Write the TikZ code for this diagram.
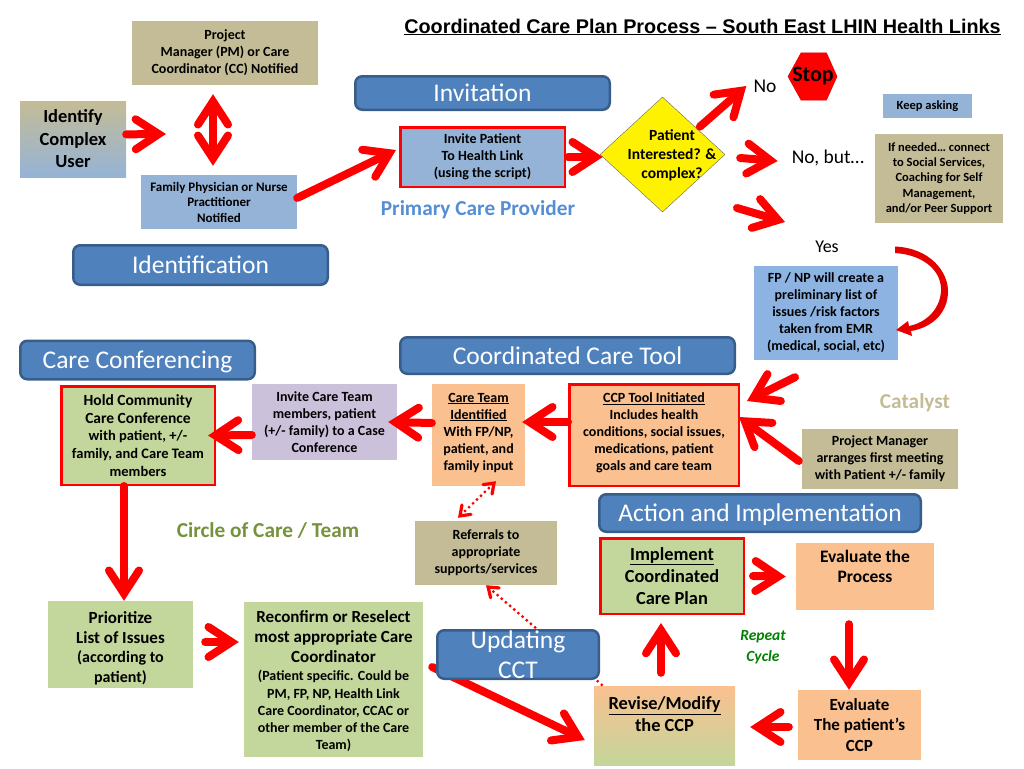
\documentclass[tikz,border=0pt]{standalone}
\usepackage{fontspec}
\setmainfont{Carlito}
\newfontfamily\titlefont{Liberation Sans}
\usetikzlibrary{arrows.meta, calc, shapes.geometric}

\definecolor{tanbox}{HTML}{C4BC96}
\definecolor{bluebox}{HTML}{95B3D7}
\definecolor{listblue}{HTML}{8DB3E2}
\definecolor{greenbox}{HTML}{C3D69B}
\definecolor{orangebox}{HTML}{FAC090}
\definecolor{lilacbox}{HTML}{CCC1DA}
\definecolor{bannerfill}{HTML}{4F81BD}
\definecolor{bannerline}{HTML}{385D8A}
\definecolor{provider}{HTML}{558ED5}
\definecolor{circlecare}{HTML}{76923C}

\tikzset{
  box/.style={inner sep=0pt, align=center, font=\fontsize{14}{17}\selectfont\bfseries},
  redbox/.style={box, draw=red, line width=2.5pt},
  banner/.style={inner sep=0pt, align=center, draw=bannerline, line width=2.5pt, fill=bannerfill,
    rounded corners=7pt, text=white, font=\fontsize{25.5}{30}\selectfont},
  word/.style={inner sep=0pt, align=center, font=\fontsize{19.5}{22}\selectfont},
  head/.style={inner sep=0pt, align=center, font=\fontsize{21.3}{24}\selectfont\bfseries},
  flow/.style={->, red, line width=8pt},
  refer/.style={red, line width=3.2pt, dash pattern=on 0pt off 5.5pt}
}

\begin{document}
\begin{tikzpicture}[line cap=round,line join=miter,x=1pt,y=-1pt,
  >={Straight Barb[length=23pt,width=30pt,line cap=round]}]
\useasboundingbox (0,0) rectangle (1024,768);

\node[inner sep=0pt, font=\fontsize{19.8}{23}\titlefont\bfseries] (TITLE) at (702.5,27)
  {\underline{Coordinated Care Plan Process – South East LHIN Health Links}};

% top row
\node[box, fill=tanbox, minimum width=186pt, minimum height=64pt] (PM) at (225,53)
  {Project\\Manager (PM) or Care\\Coordinator (CC) Notified};
\node[box, top color=tanbox, bottom color=bluebox, minimum width=106pt, minimum height=76pt,
  font=\fontsize{18.5}{22.5}\selectfont\bfseries] (ICU) at (73,139) {Identify\\Complex\\User};
\node[box, fill=bluebox, minimum width=156pt, minimum height=54pt,
  font=\fontsize{13}{15.5}\selectfont\bfseries] (FP) at (219,202)
  {Family Physician or Nurse\\Practitioner\\Notified};
\node[banner, minimum width=254.5pt, minimum height=39.5pt] (IDB) at (200.5,265) {Identification};
\node[banner, minimum width=254.5pt, minimum height=33.5pt] (INB) at (482.5,93) {Invitation};
\node[redbox, fill=bluebox, minimum width=164.5pt, minimum height=59.5pt] (INV) at (482.5,157)
  {Invite Patient\\To Health Link\\(using the script)};
\node[head, text=provider] (PCP) at (478,209.5) {Primary Care Provider};
\node[diamond, draw=black!60, fill=yellow, inner sep=0pt, minimum width=125pt, minimum height=115pt] (DIA) at (662.5,154.5) {};
\node[box, font=\fontsize{15.5}{19}\selectfont\bfseries] (DIAT) at (672,155) {Patient\\Interested? \&\\complex?};
\node[word] (NO) at (765,86) {No};
\node[word] (NB) at (828,158) {No, but…};
\node[word, font=\fontsize{18}{22}\selectfont] (YES) at (827,247) {Yes};

\draw[fill=red, draw=red!85!black, line width=0.5pt] (788,76.5) -- (801,53) -- (826.5,53) -- (837,76.5) -- (826.5,100) -- (801,100) -- cycle;
\node[box, font=\fontsize{22}{24}\selectfont\bfseries] (STOP) at (813,76) {Stop};

\node[box, fill=bluebox, minimum width=89pt, minimum height=24pt, font=\fontsize{12.5}{15}\selectfont\bfseries] (KA) at (927.5,106) {Keep asking};
\node[box, fill=tanbox, minimum width=128pt, minimum height=89pt, font=\fontsize{12.5}{15.4}\selectfont\bfseries] (CON) at (939,178.5)
  {If needed… connect\\to Social Services,\\Coaching for Self\\Management,\\and/or Peer Support};
\node[box, fill=listblue, minimum width=144pt, minimum height=94pt] (LIST) at (826,313)
  {FP / NP will create a\\preliminary list of\\issues /risk factors\\taken from EMR\\(medical, social, etc)};

% middle row
\node[banner, minimum width=234.5pt, minimum height=38.5pt] (CCB) at (137.5,360) {\raisebox{-3.4pt}[13pt][2pt]{Care Conferencing}};
\node[banner, minimum width=334.5pt, minimum height=36.5pt] (CTB) at (567.5,355.5) {Coordinated Care Tool};
\node[redbox, fill=greenbox, minimum width=153.5pt, minimum height=98.5pt, font=\fontsize{14.5}{17.8}\selectfont\bfseries] (HOLD) at (138,435.5)
  {{\fontsize{15.5}{18}\selectfont Hold Community}\\{\fontsize{15.5}{18}\selectfont Care Conference}\\with patient, +/-\\family, and Care Team\\members};
\node[box, fill=lilacbox, minimum width=145pt, minimum height=76pt] (TEAM) at (324.5,422)
  {Invite Care Team\\members, patient\\(+/- family) to a Case\\Conference};
\node[box, fill=orangebox, minimum width=93pt, minimum height=102pt] (CTI) at (478.5,435)
  {\underline{Care Team}\\\underline{Identified}\\With FP/NP,\\patient, and\\family input\\[-10pt]\mbox{}};
\node[redbox, fill=orangebox, minimum width=169.5pt, minimum height=101.5pt] (CCP) at (654,435)
  {\underline{CCP Tool Initiated}\\Includes health\\conditions, social issues,\\medications, patient\\goals and care team\\[-10pt]\mbox{}};
\node[head, text=tanbox] (CAT) at (915,403) {Catalyst};
\node[box, fill=tanbox, minimum width=156pt, minimum height=60pt] (PMM) at (880,459)
  {Project Manager\\arranges first meeting\\with Patient +/- family};

% bottom rows
\node[head, text=circlecare] (COC) at (268,531) {Circle of Care / Team};
\node[box, fill=tanbox, minimum width=142pt, minimum height=64pt] (REF) at (486,553)
  {Referrals to\\appropriate\\supports/services};
\node[banner, minimum width=321.5pt, minimum height=37.5pt] (AIB) at (760,513) {\raisebox{-3.4pt}[13pt][2pt]{Action and Implementation}};
\node[redbox, fill=greenbox, minimum width=143.5pt, minimum height=75.5pt, font=\fontsize{18.4}{22}\selectfont\bfseries] (IMP) at (672,576)
  {\underline{Implement}\\Coordinated\\Care Plan};
\node[box, fill=orangebox, minimum width=138pt, minimum height=67pt, font=\fontsize{17.5}{20}\selectfont\bfseries] (EVP) at (865,576.5)
  {Evaluate the\\Process\\\mbox{}};
\node[box, fill=orangebox, minimum width=123pt, minimum height=70pt, font=\fontsize{17}{20.5}\selectfont\bfseries] (EVQ) at (859.5,725)
  {Evaluate\\The patient’s\\CCP};
\node[box, top color=orangebox, bottom color=greenbox, minimum width=141pt, minimum height=79pt, font=\fontsize{18.4}{22}\selectfont\bfseries] (REV) at (664.5,725.5)
  {\underline{Revise/Modify}\\the CCP\\\mbox{}};
\node[inner sep=0pt, align=center, text=green!50!black, font=\fontsize{15.5}{20.5}\selectfont\bfseries\itshape] (REP) at (763,647) {Repeat\\Cycle};
\node[box, fill=greenbox, minimum width=145pt, minimum height=87pt, font=\fontsize{16}{19.5}\selectfont\bfseries] (PRI) at (120.5,644.5)
  {\rule{0pt}{19pt}{\fontsize{17}{20}\selectfont Prioritize}\\{\fontsize{17}{20}\selectfont List of Issues}\\(according to\\patient)};
\node[box, fill=greenbox, minimum width=179pt, minimum height=155pt, font=\fontsize{14}{17.2}\selectfont\bfseries] (REC) at (333.5,679.5)
  {\rule{0pt}{15pt}{\fontsize{17}{20}\selectfont Reconfirm or Reselect}\\[3pt]{\fontsize{17}{20}\selectfont most appropriate Care}\\[3pt]{\fontsize{17}{20}\selectfont Coordinator}\\[1pt](Patient specific. Could be\\PM, FP, NP, Health Link\\Care Coordinator, CCAC or\\other member of the Care\\Team)};

\coordinate (ICUtip) at (166,134);
\coordinate (YESfrom) at (737,208);
\coordinate (YEStip) at (785,222);

\draw[flow] (ICU.5) -- (ICUtip);
\draw[flow, <->, shorten <=9pt, shorten >=9pt] ([xshift=-12pt]PM.south) -- ([xshift=-6pt]FP.north);
\draw[flow] ([yshift=4pt]FP.east) -- ([xshift=-3pt,yshift=7pt]INV.west);
\draw[flow] ([xshift=2pt]INV.east) -- ([xshift=3pt,yshift=-2.5pt]DIA.west);
\draw[flow] ([xshift=6pt,yshift=-1pt]DIA.north east) -- ([xshift=-7pt]NO.west);
\draw[flow] ([xshift=15pt,yshift=-3.5pt]DIA.east) -- ([xshift=-14pt,yshift=-3pt]NB.west);
\draw[flow] (YESfrom) -- (YEStip);

% bent arrow from Yes
\fill[red!90!black] (895,246.5) .. controls (930,248) and (949,272) .. (948,293)
  .. controls (947,315) and (930,328) .. (911,331) -- (912,336) -- (896,330) -- (908,321) -- (909,326)
  .. controls (925,323) and (940,310) .. (941,291)
  .. controls (942,272) and (925,255) .. (895,253) -- cycle;

\draw[flow] ([xshift=-31pt,yshift=-17pt]LIST.south) -- ([xshift=7pt,yshift=-18pt]CCP.north east);
\draw[flow] ([xshift=-3pt,yshift=-2pt]PMM.west) -- ([xshift=-1pt,yshift=18pt]CCP.east);
\draw[flow] ([yshift=13pt]CCP.west) -- ([xshift=-3pt,yshift=13pt]CTI.east);
\draw[flow] ([yshift=12pt]CTI.west) -- ([xshift=-9pt]TEAM.east);
\draw[flow] ([yshift=-13pt]TEAM.west) -- ([xshift=-8pt]HOLD.east);
\draw[flow] ([xshift=-14pt]HOLD.south) -- ([xshift=3.5pt]PRI.north);
\draw[flow] ([xshift=12pt,yshift=2.5pt]PRI.east) -- ([xshift=-5pt,yshift=37.5pt]REC.west);
\draw[flow] ([xshift=9pt,yshift=12.5pt]REC.east) -- ([xshift=-9pt,yshift=-14.5pt]REV.west);
\draw[flow] ([xshift=8pt]IMP.east) -- ([xshift=-10pt]EVP.west);
\draw[flow] ([xshift=-16pt,yshift=-14pt]EVP.south) -- ([xshift=-10.5pt]EVQ.north);
\draw[flow] ([xshift=-9pt,yshift=-2pt]EVQ.west) -- ([xshift=15pt,yshift=-1.5pt]REV.east);
\draw[flow] ([xshift=-3.5pt,yshift=13pt]REV.north) -- ([xshift=-11pt,yshift=-8pt]IMP.south);

\draw[refer, {Straight Barb[length=9pt,width=13pt,line cap=round]}-{Straight Barb[length=9pt,width=13pt,line cap=round]}] ([xshift=-28pt,yshift=3pt]REF.north) -- ([xshift=17.5pt,yshift=5pt]CTI.south);
\draw[refer, -{Straight Barb[length=9pt,width=13pt,line cap=round]}] ([xshift=8pt,yshift=1pt]REV.north west) -- (REF.south);

\node[banner, minimum width=161.5pt, minimum height=48.5pt] (UCB) at (518,654.5) {Updating\\CCT};
\end{tikzpicture}
\end{document}
